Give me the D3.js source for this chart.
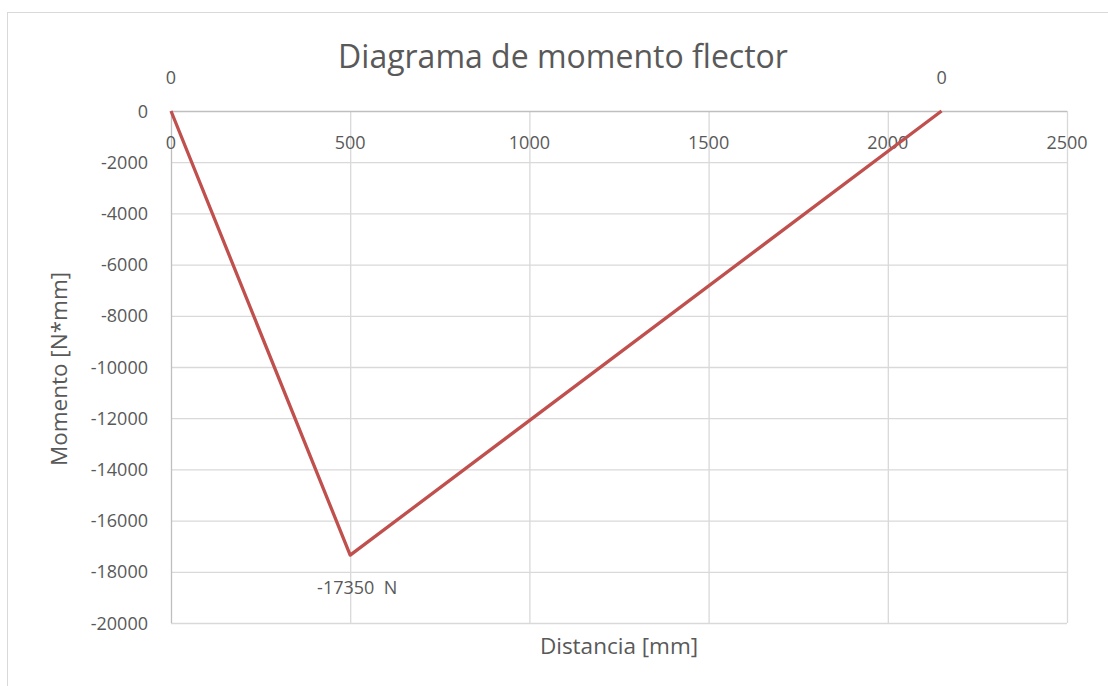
<!DOCTYPE html>
<html><head><meta charset="utf-8">
<script src="https://cdn.jsdelivr.net/npm/d3@7"></script>
<style>body{margin:0;background:#fff;}svg{display:block;font-family:"Open Sans",sans-serif;}</style>
</head><body><svg id="c" width="1108" height="686"></svg>
<script>
const distancia = [0, 500, 2150];
const momento = [0, -17350, 0];
const pointLabels = ["0", "-17350  N", "0"];
const xTicks = [0, 500, 1000, 1500, 2000, 2500];
const yTicks = [0, -2000, -4000, -6000, -8000, -10000, -12000, -14000, -16000, -18000, -20000];
const titleText = "Diagrama de momento flector";
const xTitle = "Distancia [mm]";
const yTitle = "Momento [N*mm]";

const svg = d3.select("#c");
const x = d3.scaleLinear().domain([0, 2500]).range([171, 1067]);
const y = d3.scaleLinear().domain([0, -20000]).range([111, 623]);
const txt = "#595959";

svg.append("rect").attr("x", 7.5).attr("y", 12.5).attr("width", 1120).attr("height", 700)
  .attr("fill", "#fff").attr("stroke", "#d9d9d9");

// gridlines
svg.append("g").selectAll("line").data(yTicks.filter(d => d !== 0)).join("line")
  .attr("x1", x(0)).attr("x2", x(2500)).attr("y1", d => y(d) + 0.5).attr("y2", d => y(d) + 0.5)
  .attr("stroke", "#d9d9d9").attr("stroke-width", 1.3);
svg.append("g").selectAll("line").data(xTicks.filter(d => d !== 0)).join("line")
  .attr("y1", y(0)).attr("y2", y(-20000)).attr("x1", d => x(d) + 0.5).attr("x2", d => x(d) + 0.5)
  .attr("stroke", "#d9d9d9").attr("stroke-width", 1.3);
// axes lines
svg.append("line").attr("x1", x(0)).attr("x2", x(2500)).attr("y1", y(0) + 0.5).attr("y2", y(0) + 0.5)
  .attr("stroke", "#bfbfbf").attr("stroke-width", 1.3);
svg.append("line").attr("x1", x(0) + 0.5).attr("x2", x(0) + 0.5).attr("y1", y(0)).attr("y2", y(-20000))
  .attr("stroke", "#bfbfbf").attr("stroke-width", 1.3);

// tick labels
svg.append("g").selectAll("text").data(xTicks).join("text")
  .attr("x", d => x(d)).attr("y", y(0) + 38).attr("text-anchor", "middle")
  .attr("fill", txt).attr("font-size", 18).text(d => d);
svg.append("g").selectAll("text").data(yTicks).join("text")
  .attr("x", 148).attr("y", d => y(d) + 6.5).attr("text-anchor", "end")
  .attr("fill", txt).attr("font-size", 18).text(d => d);

// line
const pts = distancia.map((d, i) => [d, momento[i]]);
svg.append("path").datum(pts)
  .attr("d", d3.line().x(d => x(d[0])).y(d => y(d[1])))
  .attr("fill", "none").attr("stroke", "#C0504D").attr("stroke-width", 3.3).attr("stroke-linejoin", "round");

// data labels
svg.append("g").selectAll("text").data(pts).join("text")
  .attr("x", (d, i) => i === 1 ? x(d[0]) + 7 : x(d[0]))
  .attr("y", (d, i) => i === 1 ? y(d[1]) + 39 : y(d[1]) - 27)
  .attr("text-anchor", "middle").attr("fill", txt).attr("font-size", 18)
  .attr("xml:space", "preserve").style("white-space", "pre")
  .text((d, i) => pointLabels[i]);

// titles
svg.append("text").attr("x", 563).attr("y", 68).attr("text-anchor", "middle")
  .attr("fill", txt).attr("font-size", 32).text(titleText);
svg.append("text").attr("x", 619).attr("y", 654).attr("text-anchor", "middle")
  .attr("fill", txt).attr("font-size", 22.5).text(xTitle);
svg.append("text").attr("transform", "translate(67,369) rotate(-90)").attr("text-anchor", "middle")
  .attr("fill", txt).attr("font-size", 22.5).text(yTitle);
</script></body></html>
